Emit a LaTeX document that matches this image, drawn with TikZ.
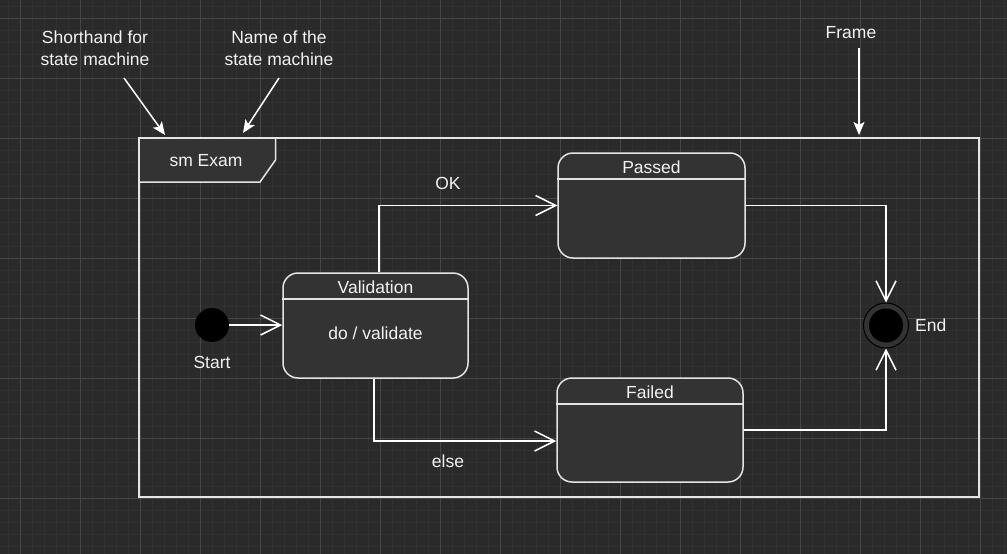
\documentclass[tikz,border=0pt]{standalone}
\usepackage{fontspec}
\setmainfont{Liberation Sans}
\usetikzlibrary{arrows.meta}
\definecolor{bg}{HTML}{2A2A2A}
\definecolor{gminor}{HTML}{313131}
\definecolor{gmajor}{HTML}{464646}
\definecolor{boxfill}{HTML}{333333}
\definecolor{strk}{HTML}{E4E4E4}
\definecolor{txt}{HTML}{F2F2F2}
\tikzset{
  lbl/.style={text=txt, font=\fontsize{17.5}{21.5}\selectfont, inner sep=0pt, align=center},
  statebox/.style={draw=strk, fill=boxfill, line width=1.5pt, rounded corners=15pt, inner sep=0pt},
  divider/.style={draw=strk, line width=1.5pt},
  conn/.style={draw=white, line width=1.5pt, -{Straight Barb[length=20pt,width=20pt,line width=1.5pt]}},
  annarrow/.style={draw=white, line width=1.5pt, -{Stealth[length=13pt,width=11pt,inset=3pt]}},
}
\begin{document}
\begin{tikzpicture}[x=1pt,y=-1pt]
\useasboundingbox (0,0) rectangle (1007,554);
\fill[bg] (0,0) rectangle (1007,554);
% grid
\foreach \i in {0,...,84} {\draw[gminor, line width=1pt] (8+12*\i,0) -- (8+12*\i,554);}
\foreach \i in {0,...,46} {\draw[gminor, line width=1pt] (0,6+12*\i) -- (1007,6+12*\i);}
\foreach \i in {0,...,16} {\draw[gmajor, line width=1pt] (20+60*\i,0) -- (20+60*\i,554);}
\foreach \i in {0,...,9} {\draw[gmajor, line width=1pt] (0,18+60*\i) -- (1007,18+60*\i);}
% frame
\node[draw=strk, line width=1.5pt, minimum width=840pt, minimum height=359pt, inner sep=0pt] (frame) at (559,317.5) {};
\draw[draw=strk, fill=boxfill, line width=1.5pt] (139,138) -- (275.5,138) -- (275.5,160) -- (260,182) -- (139,182) -- cycle;
\node[lbl] (hdr) at (206,161) {sm Exam};
% annotations
\node[lbl] (ann1) at (95,48) {Shorthand for\\state machine};
\node[lbl] (ann2) at (279,48) {Name of the\\state machine};
\node[lbl] (ann3) at (851,33) {Frame};
\coordinate (a1s) at (124,78);
\coordinate (a1e) at (165,135);
\coordinate (a2s) at (279,78);
\coordinate (a2e) at (243,133);
\coordinate (a3s) at (859,48);
\coordinate (a3e) at (859,135);
\draw[annarrow] (a1s) -- (a1e);
\draw[annarrow] (a2s) -- (a2e);
\draw[annarrow] (a3s) -- (a3e);
% states
\node[statebox, minimum width=185pt, minimum height=105pt] (val) at (375.5,325.5) {};
\draw[divider] (val.west |- 0,299) -- (val.east |- 0,299);
\node[lbl] (valt) at (375.5,287.5) {Validation};
\node[lbl] (vald) at (375.5,333) {do / validate};
\node[statebox, minimum width=187pt, minimum height=105pt] (passed) at (651.5,205.5) {};
\draw[divider] (passed.west |- 0,179) -- (passed.east |- 0,179);
\node[lbl] (passedt) at (651.5,167.5) {Passed};
\node[statebox, minimum width=186pt, minimum height=104pt] (failed) at (650,430) {};
\draw[divider] (failed.west |- 0,404) -- (failed.east |- 0,404);
\node[lbl] (failedt) at (650,392.5) {Failed};
% start / end
\node[circle, fill=black, minimum size=34pt, inner sep=0pt] (start) at (212,325) {};
\node[lbl] (startl) at (212,362) {Start};
\node[circle, draw=black, line width=1pt, fill=boxfill, minimum size=45pt, inner sep=0pt] (end) at (886,325.5) {};
\node[circle, fill=black, minimum size=34pt, inner sep=0pt] (endin) at (end) {};
\node[lbl, anchor=west] (endl) at (915,325.5) {End};
% connectors
\coordinate (okx) at (379,205.5);
\coordinate (elb) at (374,441);
\draw[conn] (start.east) -- (val.west |- start.east);
\draw[conn] (val.north -| okx) -- (okx) -- (passed.west);
\draw[conn] (val.south -| elb) -- (elb) -- (failed.west |- elb);
\draw[conn] (passed.east) -| (end.north);
\draw[conn] (failed.east) -| (end.south);
\node[lbl] (okl) at (448,183.5) {OK};
\node[lbl] (elsel) at (448,461.5) {else};
\end{tikzpicture}
\end{document}
